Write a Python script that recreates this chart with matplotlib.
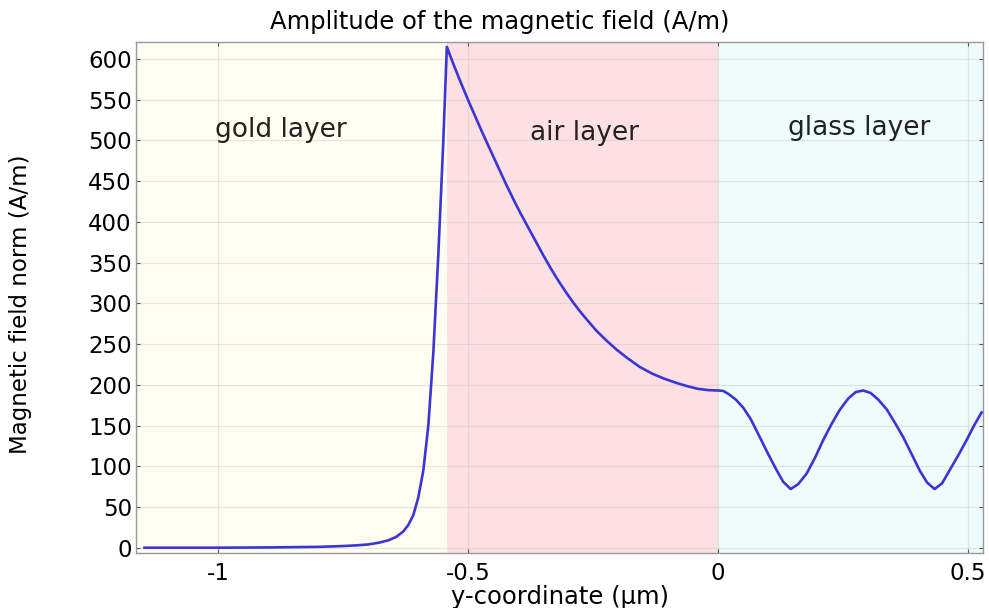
import matplotlib.pyplot as plt

plt.rcParams["font.family"] = ["DejaVu Sans"]
plt.rcParams["axes.unicode_minus"] = False

# Field norm across the three layers (y in um, |H| in A/m)
gold_y = [-1.148, -1.0, -0.9, -0.8, -0.75, -0.72, -0.70, -0.68, -0.66, -0.645,
          -0.63, -0.62, -0.61, -0.60, -0.59, -0.58, -0.57, -0.56, -0.55, -0.543]
gold_h = [0.0, 0.0, 0.3, 1.0, 2.0, 3.0, 4.0, 6.0, 9.0, 13.0,
          20.0, 28.0, 40.0, 62.0, 95.0, 150.0, 240.0, 360.0, 500.0, 615.0]

air_y = [-0.543, -0.53, -0.515, -0.50, -0.485, -0.47, -0.455, -0.44, -0.425, -0.41,
         -0.395, -0.38, -0.365, -0.35, -0.335, -0.32, -0.305, -0.29, -0.275, -0.26,
         -0.243, -0.223, -0.203, -0.18, -0.157, -0.133, -0.11, -0.087, -0.063, -0.04,
         -0.02, 0.0]
air_h = [615, 594, 571, 549, 528, 507, 487, 467, 447, 428,
         410, 393, 376, 359, 343, 328, 314, 301, 289, 278,
         266, 254, 243, 232, 222, 214, 208, 203, 198.5, 195,
         193.5, 193]

glass_y = [0.0, 0.01, 0.02, 0.035, 0.05, 0.065, 0.083, 0.10, 0.117, 0.13,
           0.145, 0.16, 0.177, 0.195, 0.21, 0.227, 0.243, 0.26, 0.275, 0.29,
           0.305, 0.32, 0.337, 0.353, 0.37, 0.387, 0.403, 0.418, 0.433, 0.448,
           0.463, 0.48, 0.497, 0.512, 0.527]
glass_h = [193, 192.5, 189, 182, 172, 158, 136, 115, 95, 81,
           72, 78, 91, 112, 132, 152, 169, 183, 191, 193,
           190, 182, 170, 154, 136, 115, 95, 80, 72, 79,
           95, 113, 132, 150, 166]

layer_names = ["gold layer", "air layer", "glass layer"]
layer_bounds = [-1.165, -0.543, 0.0, 0.53]
layer_colors = ["#fffdf0", "#fde0e4", "#effcfc"]
label_pos = [(-0.875, 513), (-0.267, 509), (0.283, 515)]

xticks = [-1, -0.5, 0, 0.5]
xtick_labels = ["-1", "-0.5", "0", "0.5"]
yticks = list(range(0, 601, 50))


def main() -> None:
    fig = plt.figure(figsize=(9.89, 6.08), dpi=100)
    ax = fig.add_axes([0.1375, 0.0905, 0.8565, 0.8405])

    for i in range(3):
        ax.axvspan(layer_bounds[i], layer_bounds[i + 1], color=layer_colors[i],
                   zorder=0, lw=0)
        ax.text(*label_pos[i], layer_names[i], ha="center", va="center",
                fontsize=19, color="#222222")

    y = gold_y + air_y[1:] + glass_y[1:]
    h = gold_h + air_h[1:] + glass_h[1:]
    ax.plot(y, h, color="#3b35d6", lw=1.9, zorder=3)

    ax.set_xlim(layer_bounds[0], layer_bounds[-1])
    ax.set_ylim(-6.5, 621)
    ax.set_xticks(xticks, xtick_labels)
    ax.set_yticks(yticks)
    ax.grid(True, color="#bbbbbb", alpha=0.35, lw=0.9, zorder=1)
    ax.tick_params(direction="in", top=True, right=True, length=3,
                   labelsize=16.5, color="#555555")
    ax.tick_params(axis="x", pad=6.5)
    ax.tick_params(axis="y", pad=3)
    for s in ax.spines.values():
        s.set_color("#999999")
        s.set_linewidth(1.0)

    fig.text(0.505, 0.963, "Amplitude of the magnetic field (A/m)",
             fontsize=17.5, ha="center", va="center")
    ax.set_xlabel("y-coordinate (µm)", fontsize=17.5, labelpad=0)
    ax.set_ylabel("Magnetic field norm (A/m)", fontsize=16.5)
    ax.yaxis.set_label_coords(-0.123, 0.486)

    fig.savefig("out.png", dpi=100)


if __name__ == "__main__":
    main()
